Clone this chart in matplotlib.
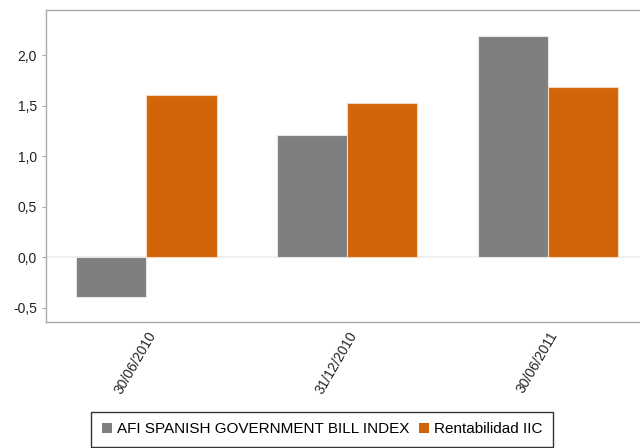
import matplotlib.pyplot as plt
import matplotlib.transforms as mtransforms
import numpy as np
from matplotlib.patches import Patch
from matplotlib.ticker import FuncFormatter

plt.rcParams['font.family'] = ['Liberation Sans', 'DejaVu Sans']

fechas = ['30/06/2010', '31/12/2010', '30/06/2011']
indice = [-0.39, 1.21, 2.19]
rentabilidad = [1.60, 1.53, 1.68]
series_names = ['AFI SPANISH GOVERNMENT BILL INDEX', 'Rentabilidad IIC']
y_ticks = [-0.5, 0.0, 0.5, 1.0, 1.5, 2.0]

gray = '#7f7f7f'
orange = '#d2650a'

fig = plt.figure(figsize=(6.4, 4.48), dpi=100)
ax = fig.add_axes([46 / 640, 1 - 322 / 448, 1 - 46 / 640 + 0.01, (322 - 10) / 448])

x = np.arange(len(fechas))
w = 0.35
ax.bar(x - w / 2, indice, w, color=gray, edgecolor='#e6e6e6', linewidth=0.8, zorder=3)
ax.bar(x + w / 2, rentabilidad, w, color=orange, edgecolor='#f4d9c0', linewidth=0.8, zorder=3)
ax.axhline(0, color='#eeeeee', linewidth=1.2, zorder=2)

ax.set_xlim(-0.5, 2.49)
ax.set_ylim(-0.64, 2.445)
ax.set_yticks(y_ticks)
ax.yaxis.set_major_formatter(FuncFormatter(lambda v, p: f'{v:.1f}'.replace('.', ',')))
ax.set_xticks(x)
ax.set_xticklabels(fechas, rotation=60, ha='right', rotation_mode='anchor', fontsize=10, color='#222222')
offset = mtransforms.ScaledTranslation(13 / 100, 0, fig.dpi_scale_trans)
for lbl in ax.get_xticklabels():
    lbl.set_transform(lbl.get_transform() + offset)
ax.tick_params(axis='y', labelsize=10, labelcolor='#222222', length=3, color='#aaaaaa')
ax.tick_params(axis='x', length=0, pad=5)

for side in ['top', 'left', 'bottom']:
    ax.spines[side].set_color('#aaaaaa')
    ax.spines[side].set_linewidth(1.0)
ax.spines['right'].set_visible(False)

handles = [Patch(facecolor=gray, label=series_names[0]), Patch(facecolor=orange, label=series_names[1])]
leg = fig.legend(handles=handles, loc='lower center', bbox_to_anchor=(322 / 640, 0.002), ncol=2,
                 frameon=True, fancybox=False, fontsize=11, handlelength=0.7, handleheight=0.7,
                 handletextpad=0.3, columnspacing=0.6, borderpad=0.7, borderaxespad=0)
leg.get_frame().set_edgecolor('black')
leg.get_frame().set_linewidth(1.0)

fig.savefig('out.png', dpi=100)
